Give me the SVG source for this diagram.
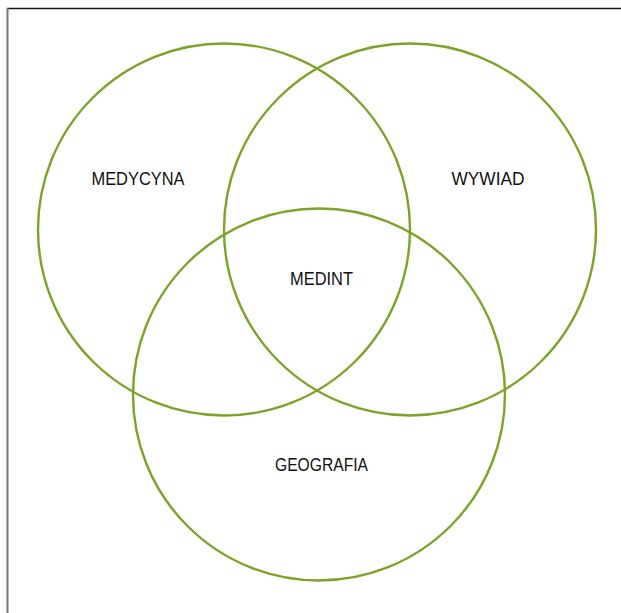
<svg xmlns="http://www.w3.org/2000/svg" width="621" height="613" viewBox="0 0 621 613">
<style>
.c{fill:none;stroke:#7ba428;stroke-width:2.4}
.t{font-family:"Liberation Sans",Arial,sans-serif;font-size:18px;fill:#111;text-anchor:middle}
</style>
<rect width="621" height="613" fill="#fff"/>
<g id="frame">
<line x1="7" y1="8.5" x2="621" y2="8.5" stroke="#1a1a1a" stroke-width="1.5"/>
<line x1="7.5" y1="8" x2="7.5" y2="613" stroke="#777" stroke-width="2"/>
</g>
<g id="medycyna">
<circle class="c" cx="224" cy="229.5" r="186"/>
<text class="t" x="138" y="185" textLength="93" lengthAdjust="spacingAndGlyphs">MEDYCYNA</text>
</g>
<g id="wywiad">
<circle class="c" cx="410" cy="229.5" r="186"/>
<text class="t" x="488" y="185" textLength="73" lengthAdjust="spacingAndGlyphs">WYWIAD</text>
</g>
<g id="geografia">
<circle class="c" cx="319" cy="394.5" r="186"/>
<text class="t" x="321.5" y="471" textLength="93" lengthAdjust="spacingAndGlyphs">GEOGRAFIA</text>
</g>
<g id="medint">
<text class="t" x="321.5" y="285" textLength="63" lengthAdjust="spacingAndGlyphs">MEDINT</text>
</g>
<g id="connectors"></g>
</svg>
